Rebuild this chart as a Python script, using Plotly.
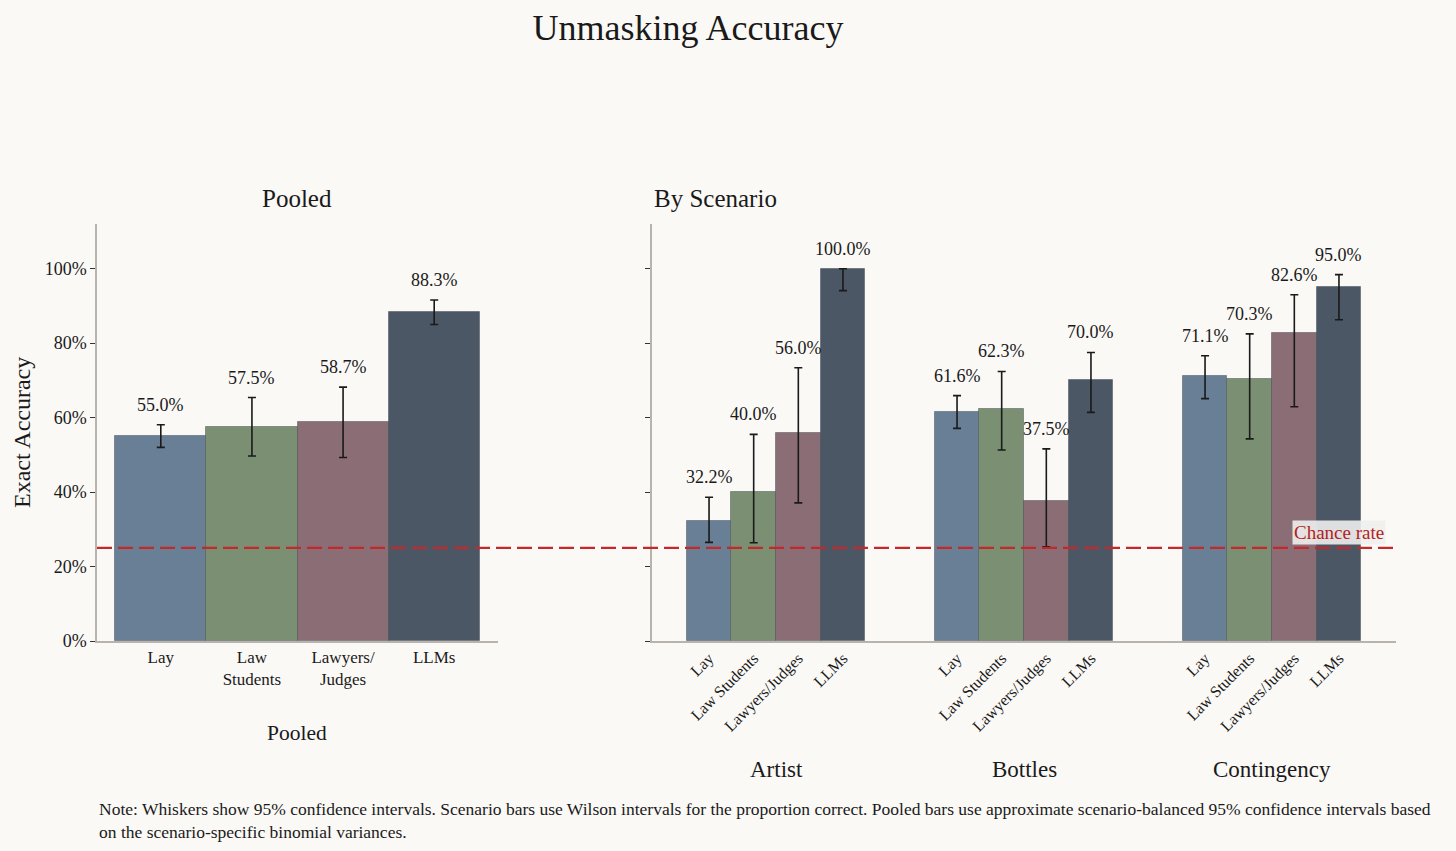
import plotly.graph_objects as go

# grupy i kolory
grupy = ["Lay", "Law Students", "Lawyers/Judges", "LLMs"]
etykiety_pooled = ["Lay", "Law<br>Students", "Lawyers/<br>Judges", "LLMs"]
kolory = ["#687f95", "#7b8f73", "#8b6d76", "#4c5766"]

# pooled
pooled_val = [0.550, 0.575, 0.587, 0.883]
pooled_lo = [0.520, 0.497, 0.493, 0.850]
pooled_hi = [0.581, 0.654, 0.682, 0.916]

# by scenario
scenariusze = ["Artist", "Bottles", "Contingency"]
lay_val = [0.322, 0.616, 0.711]
lay_lo = [0.265, 0.571, 0.651]
lay_hi = [0.386, 0.659, 0.766]
ls_val = [0.400, 0.623, 0.703]
ls_lo = [0.264, 0.513, 0.543]
ls_hi = [0.555, 0.724, 0.825]
lj_val = [0.560, 0.375, 0.826]
lj_lo = [0.371, 0.253, 0.629]
lj_hi = [0.734, 0.516, 0.930]
llm_val = [1.000, 0.700, 0.950]
llm_lo = [0.941, 0.614, 0.863]
llm_hi = [1.000, 0.775, 0.984]

scen_val = [lay_val, ls_val, lj_val, llm_val]
scen_lo = [lay_lo, ls_lo, lj_lo, llm_lo]
scen_hi = [lay_hi, ls_hi, lj_hi, llm_hi]

FONT = "Liberation Serif"
TXT = "#1a1a1a"
SZER = 0.18

fig = go.Figure()

# lewy panel
fig.add_trace(go.Bar(
    x=list(range(len(grupy))), y=pooled_val, width=1.0,
    marker=dict(color=kolory, line=dict(color="rgba(60,70,80,0.45)", width=1)),
    error_y=dict(type="data", array=[h - v for h, v in zip(pooled_hi, pooled_val)],
                 arrayminus=[v - l for v, l in zip(pooled_val, pooled_lo)],
                 color="#1a1a1a", thickness=1.6, width=4),
    xaxis="x", yaxis="y", showlegend=False,
))

# prawy panel
tick_x, tick_txt = [], []
for k, g in enumerate(grupy):
    xs = [i + (k - 1.5) * SZER for i in range(len(scenariusze))]
    tick_x += xs
    tick_txt += [g] * len(xs)
    fig.add_trace(go.Bar(
        x=xs, y=scen_val[k], width=SZER,
        marker=dict(color=kolory[k], line=dict(color="rgba(60,70,80,0.45)", width=1)),
        error_y=dict(type="data", array=[h - v for h, v in zip(scen_hi[k], scen_val[k])],
                     arrayminus=[v - l for v, l in zip(scen_val[k], scen_lo[k])],
                     color="#1a1a1a", thickness=1.6, width=4),
        xaxis="x2", yaxis="y2", showlegend=False,
    ))
    for x, v, h in zip(xs, scen_val[k], scen_hi[k]):
        fig.add_annotation(x=x, y=h, xref="x2", yref="y2", text=f"{v*100:.1f}%",
                           showarrow=False, xanchor="center", yanchor="bottom", yshift=8,
                           font=dict(family=FONT, size=18, color=TXT))

for i, (v, h) in enumerate(zip(pooled_val, pooled_hi)):
    fig.add_annotation(x=i, y=h, xref="x", yref="y", text=f"{v*100:.1f}%",
                       showarrow=False, xanchor="center", yanchor="bottom", yshift=8,
                       font=dict(family=FONT, size=18, color=TXT))

y_dom = [1 - 641 / 851, 1 - 224 / 851]
x1_dom = [97 / 1456, 498 / 1456]
x2_dom = [652 / 1456, 1396 / 1456]
os_szary = "#b8b4ad"

fig.update_layout(
    width=1456, height=851,
    margin=dict(l=0, r=0, t=0, b=0, autoexpand=False),
    paper_bgcolor="#faf9f6", plot_bgcolor="#faf9f6",
    font=dict(family=FONT, color=TXT),
    bargap=0,
    title=dict(text="Unmasking Accuracy", x=688 / 1456, xanchor="center",
               y=1 - 27 / 851, yanchor="middle", yref="container", automargin=False,
               font=dict(family=FONT, size=36, color=TXT)),
    xaxis=dict(domain=x1_dom, range=[-0.7, 3.7], tickvals=list(range(len(grupy))),
               ticktext=etykiety_pooled, showline=True, linecolor=os_szary, linewidth=1.5,
               ticks="", showgrid=False, zeroline=False, automargin=False,
               tickfont=dict(family=FONT, size=17, color=TXT)),
    yaxis=dict(domain=y_dom, range=[0, 1.12], tickvals=[0, 0.2, 0.4, 0.6, 0.8, 1.0],
               tickformat=".0%", showline=True, linecolor=os_szary, linewidth=1.5,
               ticks="outside", ticklen=5, tickcolor="#333", showgrid=False, zeroline=False,
               automargin=False, tickfont=dict(family=FONT, size=18, color=TXT)),
    xaxis2=dict(domain=x2_dom, range=[-0.5, 2.5], tickvals=tick_x, ticktext=tick_txt,
                tickangle=-45, showline=True, linecolor=os_szary, linewidth=1.5,
                ticks="", showgrid=False, zeroline=False, anchor="y2", automargin=False,
                tickfont=dict(family=FONT, size=16, color=TXT)),
    yaxis2=dict(domain=y_dom, range=[0, 1.12], anchor="x2", tickvals=[0, 0.2, 0.4, 0.6, 0.8, 1.0],
                showticklabels=False, showline=True, linecolor=os_szary, linewidth=1.5,
                ticks="outside", ticklen=5, tickcolor="#333", showgrid=False, zeroline=False,
                automargin=False),
)

# linia losowego trafienia
fig.add_shape(type="line", xref="paper", yref="y", x0=97 / 1456, x1=1393 / 1456,
              y0=0.25, y1=0.25, layer="above",
              line=dict(color="#c4282a", width=2.2, dash="15px,6px"))
fig.add_annotation(x=1386 / 1456, y=0.25, xref="paper", yref="y", text="Chance rate",
                   showarrow=False, xanchor="right", yanchor="bottom", yshift=3,
                   bgcolor="rgba(238,238,238,0.9)", borderpad=1,
                   font=dict(family=FONT, size=19, color="#b22222"))

# tytuły paneli i osi
fig.add_annotation(x=297 / 1456, y=1 - 198 / 851, xref="paper", yref="paper", text="Pooled",
                   showarrow=False, xanchor="center", yanchor="middle",
                   font=dict(family=FONT, size=25, color=TXT))
fig.add_annotation(x=652 / 1456, y=1 - 198 / 851, xref="paper", yref="paper", text="By Scenario",
                   showarrow=False, xanchor="left", yanchor="middle",
                   font=dict(family=FONT, size=25, color=TXT))
fig.add_annotation(x=22 / 1456, y=1 - 433 / 851, xref="paper", yref="paper", text="Exact Accuracy",
                   showarrow=False, textangle=-90, xanchor="center", yanchor="middle",
                   font=dict(family=FONT, size=24, color=TXT))
fig.add_annotation(x=297 / 1456, y=1 - 733 / 851, xref="paper", yref="paper", text="Pooled",
                   showarrow=False, xanchor="center", yanchor="middle",
                   font=dict(family=FONT, size=21.5, color=TXT))
for i, s in enumerate(scenariusze):
    fig.add_annotation(x=i, y=1 - 769 / 851, xref="x2", yref="paper", text=s,
                       showarrow=False, xanchor="center", yanchor="middle",
                       font=dict(family=FONT, size=23, color=TXT))

fig.add_annotation(
    x=97 / 1456, y=1 - 797 / 851, xref="paper", yref="paper", xanchor="left", yanchor="top",
    align="left", showarrow=False,
    text="Note: Whiskers show 95% confidence intervals. Scenario bars use Wilson intervals for the proportion correct. "
         "Pooled bars use approximate scenario-balanced 95% confidence intervals based<br>"
         "on the scenario-specific binomial variances.",
    font=dict(family=FONT, size=17.5, color=TXT))

fig.write_html("out.html", config={"displayModeBar": False, "responsive": False},
               post_script="document.body.style.margin='0px';")
